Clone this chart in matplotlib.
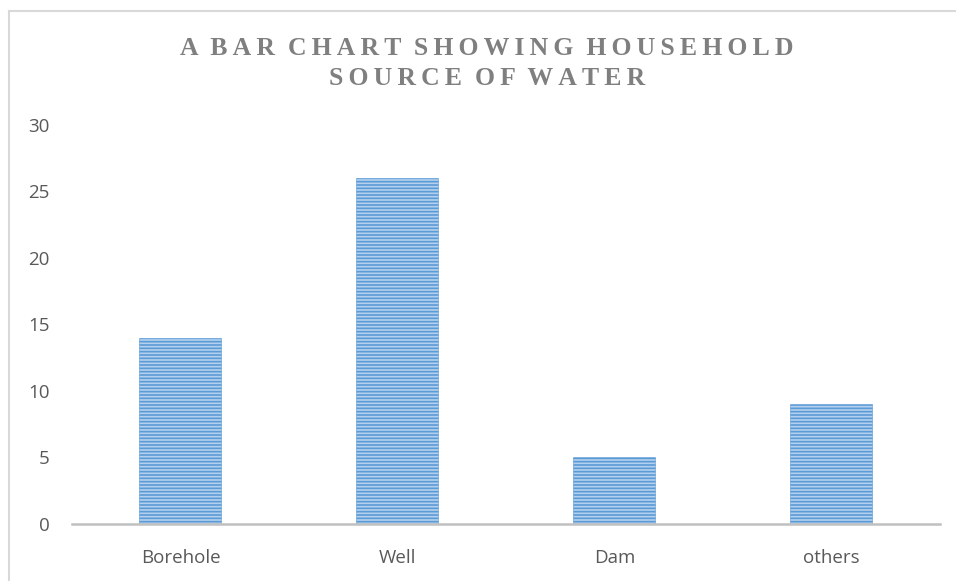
import matplotlib
matplotlib.use("Agg")
import matplotlib.pyplot as plt
from matplotlib.lines import Line2D

# ── data ──────────────────────────────────────
sources = ["Borehole", "Well", "Dam", "others"]
counts  = [14, 26, 5, 9]
y_ticks = [0, 5, 10, 15, 20, 25, 30]

title_lines = ["A BAR CHART SHOWING HOUSEHOLD", "SOURCE OF WATER"]

plt.rcParams["hatch.linewidth"] = 1.2

fig = plt.figure(figsize=(9.56, 5.81), dpi=100)
ax = fig.add_axes([0.0753, 0.0981, 0.9077, 0.687])

x = range(len(sources))
ax.bar(x, counts, width=0.378, color="#b4d0ee", edgecolor="#5b9bd5",
       linewidth=0.4, hatch="-----", zorder=2)

ax.set_xlim(-0.5, len(sources) - 0.5)
ax.set_ylim(0, 30)
ax.set_yticks(y_ticks)
ax.set_xticks(list(x))
ax.set_xticklabels(sources)

for s in ["top", "right", "left"]:
    ax.spines[s].set_visible(False)
ax.spines["bottom"].set_color("#c0c0c0")
ax.spines["bottom"].set_linewidth(1.8)
ax.tick_params(axis="both", length=0, labelsize=13.5, labelcolor="#595959")
ax.tick_params(axis="y", pad=16)
ax.tick_params(axis="x", pad=18)
for lbl in ax.get_xticklabels() + ax.get_yticklabels():
    lbl.set_fontfamily("Open Sans")

# title with wide letter spacing (hair spaces between letters)
def spaced(s):
    return "  ".join("\u2009".join(w) for w in s.split(" "))

fig.text(0.5095, 0.917, spaced(title_lines[0]), ha="center", va="center",
         fontsize=18.5, fontweight="bold", color="#7f7f7f",
         family=["Liberation Serif", "DejaVu Serif"])
fig.text(0.5095, 0.865, spaced(title_lines[1]), ha="center", va="center",
         fontsize=18.5, fontweight="bold", color="#7f7f7f",
         family=["Liberation Serif", "DejaVu Serif"])

# chart-area border (top and left edges visible)
fig.add_artist(Line2D([0.0094, 1.0], [0.9815, 0.9815], transform=fig.transFigure,
                      color="#d9d9d9", linewidth=1.5))
fig.add_artist(Line2D([0.0094, 0.0094], [0.0, 0.9815], transform=fig.transFigure,
                      color="#d9d9d9", linewidth=1.5))

plt.savefig("out.png", dpi=100)
